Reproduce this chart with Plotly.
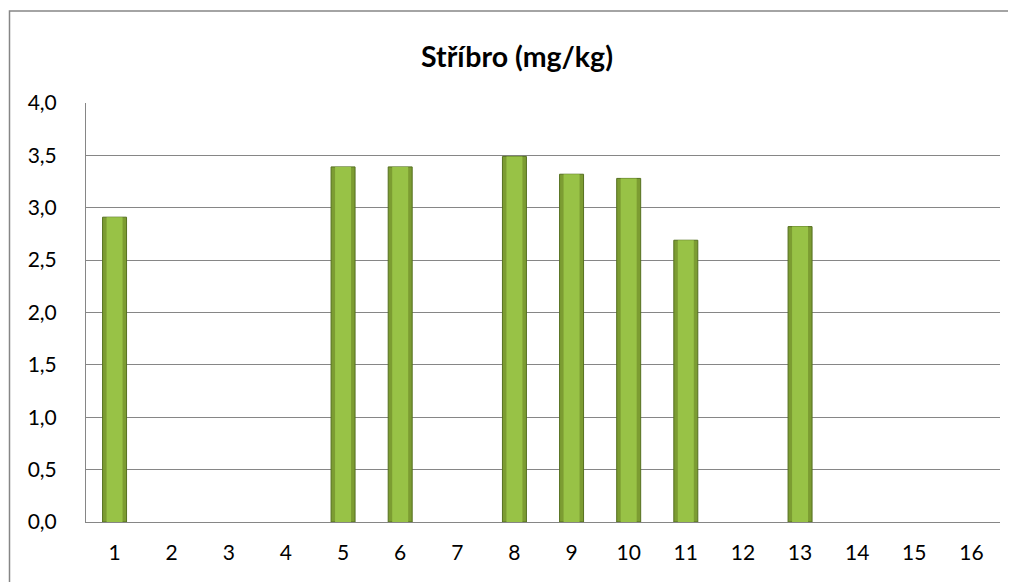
import plotly.graph_objects as go

categories = [str(i) for i in range(1, 17)]
values = [2.91, None, None, None, 3.39, 3.39, None, 3.49, 3.32, 3.28, 2.69, None, 2.82, None, None, None]
y_ticks = [0, 0.5, 1.0, 1.5, 2.0, 2.5, 3.0, 3.5, 4.0]
title = "Stříbro (mg/kg)"

# page has an 8px body margin, so the figure is sized to fill the rest
OFF = 8
W, H = 1016 - OFF, 582 - OFF
L, R, T, B = 86 - OFF, 16, 103 - OFF, 60
pw = W - L - R
ph = H - T - B

fig = go.Figure()
fig.add_trace(go.Bar(x=categories, y=values, width=0.42,
                     marker=dict(color="#7C9C32", line=dict(color="#55701F", width=1)), hoverinfo="skip"))
fig.add_trace(go.Bar(x=categories, y=values, width=0.28,
                     marker=dict(color="#98C246", line=dict(width=0)), hoverinfo="skip"))

fig.update_layout(
    width=W, height=H,
    barmode="overlay",
    showlegend=False,
    separators=", ",
    paper_bgcolor="white", plot_bgcolor="white",
    margin=dict(l=L, r=R, t=T, b=B, pad=0),
    font=dict(family="Lato, Open Sans, sans-serif", size=21, color="black"),
    title=dict(text="<b>" + title + "</b>", x=(517 - OFF) / W, xanchor="center",
               y=1 - (57 - OFF) / H, yanchor="middle",
               font=dict(size=28.5, color="black")),
    xaxis=dict(type="category", showgrid=False, showline=True, linecolor="#868686", linewidth=1,
               ticks="", ticklabelstandoff=12, tickfont=dict(size=21)),
    yaxis=dict(range=[0, 4.0], tickvals=y_ticks, tickformat=".1f", showgrid=True, gridcolor="#868686",
               gridwidth=1, showline=True, linecolor="#868686", linewidth=1, ticks="",
               ticklabelstandoff=24, tickfont=dict(size=21), zeroline=False),
    shapes=[dict(type="rect", xref="paper", yref="paper",
                 x0=(9.5 - 86) / pw, x1=(1030 - 86) / pw,
                 y0=-(600 - 522) / ph, y1=1 + (103 - 11) / ph,
                 line=dict(color="#868686", width=1.5), fillcolor="rgba(0,0,0,0)", layer="below")],
)

fig.write_html("out.html")
